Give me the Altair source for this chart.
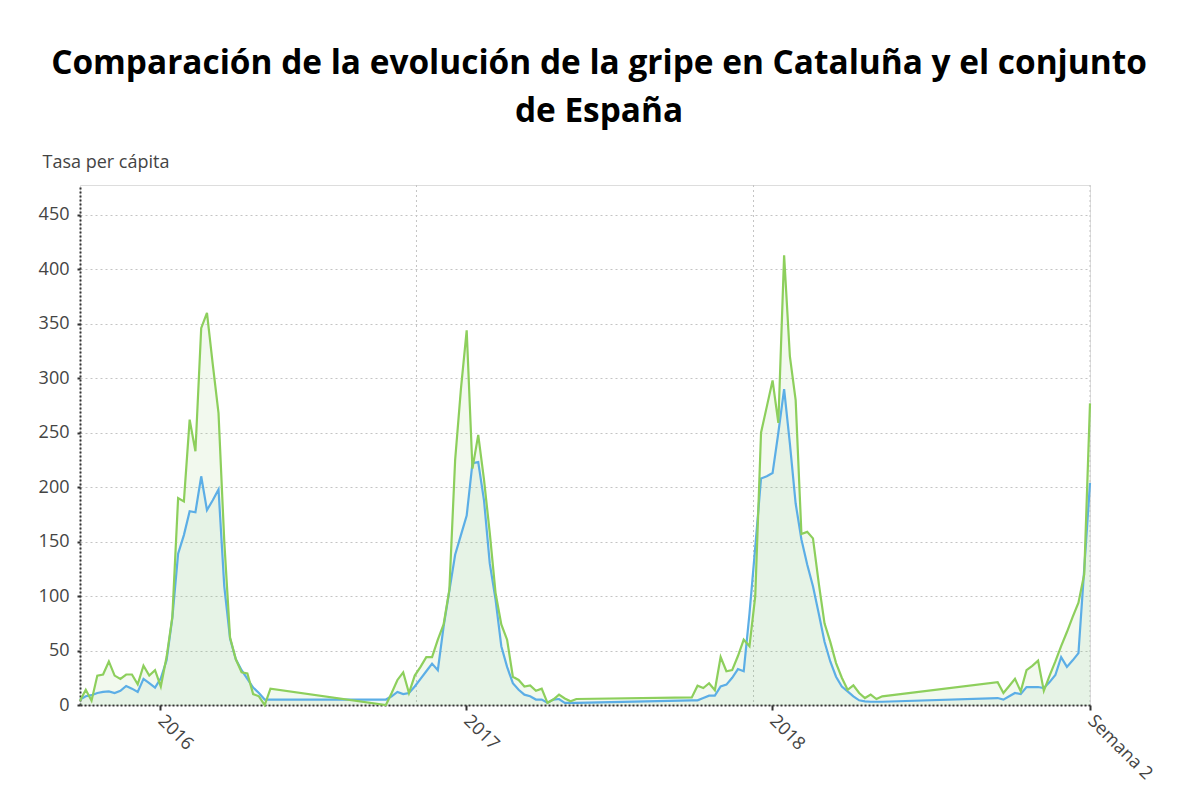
import altair as alt
import pandas as pd

TITLE = ["Comparación de la evolución de la gripe en Cataluña y el conjunto", "de España"]
Y_TITLE = "Tasa per cápita"
X_TICK_VALUES = [13.9, 66.9, 119.9, 175]
X_TICK_LABELS = ["2016", "2017", "2018", "Semana 2"]
Y_TICK_VALUES = [0, 50, 100, 150, 200, 250, 300, 350, 400, 450]
V_GRID = [58.3, 116.7, 175]

SERIES = ["Cataluña", "España"]

# week index of first data point of each season
SEASON_STARTS = [0, 53, 106, 159]

cat_2016 = [4, 14, 4, 27, 28, 40, 27, 24, 28, 28, 19, 36, 27, 32, 17, 44, 81, 190, 187, 262,
            233, 346, 360, 313, 268, 150, 62, 42, 30, 29, 10, 8, 0, 15]
esp_2016 = [5, 8, 9, 11, 12, 12.5, 11, 13, 17.5, 15, 12, 24, 20, 16, 24.5, 41, 80, 139, 156, 178,
            177, 210, 179, 188, 198, 109, 61, 42, 32, 24, 16, 11, 5, 5]

cat_2017 = [0, 11, 23, 30, 11, 27, 35, 44, 44, 60, 74, 106, 225, 290, 344, 217, 248, 207, 158, 103,
            74, 60, 26, 23, 17, 18, 13, 15, 2, 5, 9.5, 6, 3.4, 5.5]
esp_2017 = [5, 8, 12, 10, 11, 17, 24, 31, 38, 32, 72, 105, 138, 156, 174, 222, 223, 188, 130, 97,
            54, 35, 20, 14, 9.5, 8, 5, 5, 2, 5, 5.5, 2, 2, 2]

cat_2018 = [7, 17.7, 15.6, 20, 13.5, 44, 31, 32, 45, 60, 54, 100, 250, 274, 298, 259, 413, 320, 280, 157,
            159, 153, 112, 75, 58, 38.5, 25, 14, 18, 11, 6.4, 9.5, 5.5, 8]
esp_2018 = [4.3, 4.3, 6.4, 8.6, 8.6, 17, 18.7, 25, 33, 31, 84, 145, 208, 210, 213, 250, 290, 240, 185, 152,
            129, 109, 84, 58, 40, 26, 17, 12.5, 8, 4.3, 3.4, 3, 3, 3]

cat_2019 = [21, 11, 17.5, 24, 12.5, 32, 36, 40.7, 13, 27, 40, 54, 67, 81, 94, 120, 277]
esp_2019 = [6.4, 4.9, 8, 11, 10, 16.5, 16.5, 16.5, 15.6, 21, 27.5, 44, 35, 41, 47.6, 125, 204]

cat_seasons = [cat_2016, cat_2017, cat_2018, cat_2019]
esp_seasons = [esp_2016, esp_2017, esp_2018, esp_2019]

rows = []
for start, cs, es in zip(SEASON_STARTS, cat_seasons, esp_seasons):
    for i, v in enumerate(cs):
        rows.append({"semana": start + i, "tasa": v, "serie": SERIES[0]})
    for i, v in enumerate(es):
        rows.append({"semana": start + i, "tasa": v, "serie": SERIES[1]})
df = pd.DataFrame(rows).sort_values(["serie", "semana"]).reset_index(drop=True)
df_cat = df[df["serie"] == SERIES[0]].reset_index(drop=True)
df_esp = df[df["serie"] == SERIES[1]].reset_index(drop=True)

GREEN = "#8dcf5c"
BLUE = "#5caee6"
FONT = "Open Sans"

label_expr = " : ".join(
    f"datum.value == {v} ? '{l}'" for v, l in zip(X_TICK_VALUES, X_TICK_LABELS)
) + " : ''"

x_enc = alt.X(
    "semana:Q",
    scale=alt.Scale(domain=[0, 175], nice=False, zero=False),
    axis=alt.Axis(
        values=X_TICK_VALUES, labelExpr=label_expr, grid=False, title=None,
        labelAngle=45, labelAlign="left", labelBaseline="middle", labelPadding=8,
        labelFont=FONT, labelFontSize=18, labelColor="#444",
        tickColor="#333", tickSize=5, tickWidth=2,
        domainColor="#333", domainWidth=2, domainDash=[2, 2],
        labelOverlap=False, labelFlush=False,
    ),
)
y_enc = alt.Y(
    "tasa:Q",
    stack=None,
    scale=alt.Scale(domain=[0, 477.5], nice=False, zero=True),
    axis=alt.Axis(
        values=Y_TICK_VALUES, title=Y_TITLE, titleAngle=0, titleAlign="left",
        titleBaseline="alphabetic", titleX=-38, titleY=-18, titleFont=FONT,
        titleFontSize=18, titleFontWeight="normal", titleColor="#444",
        labelFont=FONT, labelFontSize=18, labelColor="#444", labelPadding=8,
        tickColor="#333", tickSize=3, tickWidth=2,
        grid=True, gridColor="#c4c4c4", gridDash=[2, 3], gridWidth=1,
        domainColor="#333", domainWidth=2, domainDash=[2, 2],
    ),
)

vgrid = alt.Chart(pd.DataFrame({"semana": V_GRID})).mark_rule(
    color="#c4c4c4", strokeDash=[2, 3], strokeWidth=1
).encode(x=alt.X("semana:Q"))

area_cat = alt.Chart(df_cat).mark_area(
    color="#a5d88a", fillOpacity=0.14, line=False
).encode(x=x_enc, y=y_enc)
area_esp = alt.Chart(df_esp).mark_area(
    color="#5cae8a", fillOpacity=0.08, line=False
).encode(x=x_enc, y=y_enc)
line_esp = alt.Chart(df_esp).mark_line(
    color=BLUE, strokeWidth=2.2
).encode(x=x_enc, y=y_enc)
line_cat = alt.Chart(df_cat).mark_line(
    color=GREEN, strokeWidth=2.2
).encode(x=x_enc, y=y_enc)

chart = alt.layer(vgrid, area_cat, area_esp, line_esp, line_cat).properties(
    width=1010,
    height=520,
    autosize=alt.AutoSizeParams(type="none"),
    padding={"left": 80, "top": 185, "right": 108, "bottom": 103},
    title=alt.TitleParams(
        text=TITLE, font=FONT, fontSize=33.4, fontWeight="bold", color="#000",
        anchor="middle", frame="group", dx=14, offset=24, lineHeight=48,
    ),
).configure_view(stroke=None).configure(background="white")

chart.save("out.html", embed_options={"renderer": "svg", "actions": False})
